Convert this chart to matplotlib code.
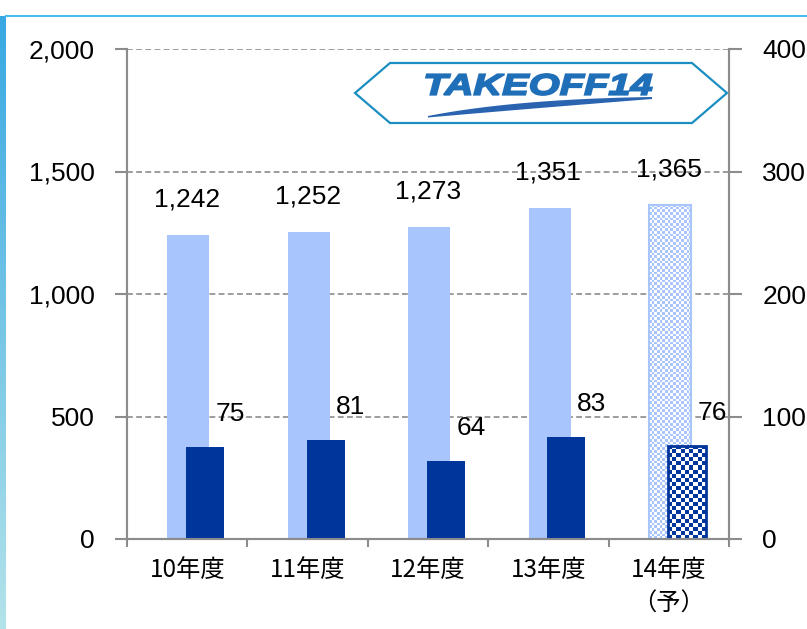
import numpy as np
import matplotlib
matplotlib.use("Agg")
import matplotlib.pyplot as plt
from matplotlib.colors import ListedColormap, LinearSegmentedColormap
from matplotlib.patches import Polygon, PathPatch
from matplotlib.textpath import TextPath
from matplotlib.font_manager import FontProperties
from matplotlib.transforms import Affine2D
from matplotlib.lines import Line2D

plt.rcParams['font.family'] = ['Liberation Sans', 'Noto Sans CJK JP', 'DejaVu Sans']

# --- データ ---
categories = ["10年度", "11年度", "12年度", "13年度", "14年度\n（予）"]
sales      = [1242, 1252, 1273, 1351, 1365]   # 左軸
profit     = [75, 81, 64, 83, 76]             # 右軸
forecast   = [False, False, False, False, True]

LIGHT = "#a8c5fd"
DARK  = "#00359b"
GRAY  = "#8c8c8c"

W, H = 807, 629
fig = plt.figure(figsize=(W / 100, H / 100), dpi=100)
ax = fig.add_axes([127 / W, 1 - 539 / H, (729 - 127) / W, (539 - 49) / H])
ax2 = ax.twinx()

x = np.arange(len(categories))


def checker(axis, patch, c1, c2, cell_px):
    ext = patch.get_window_extent()
    nx = max(1, int(round(ext.width / cell_px)))
    ny = max(1, int(round(ext.height / cell_px)))
    grid = np.add.outer(np.arange(ny), np.arange(nx)) % 2
    x0, y0 = patch.get_x(), patch.get_y()
    im = axis.imshow(grid, cmap=ListedColormap([c1, c2]), origin="lower",
                     extent=(x0, x0 + patch.get_width(), y0, y0 + patch.get_height()),
                     interpolation="nearest", aspect="auto",
                     zorder=patch.get_zorder() + 0.1)
    im.set_clip_path(patch)


ax.set_xlim(-0.5, len(categories) - 0.5)
ax.set_ylim(0, 2000)
ax2.set_ylim(0, 400)

off_l, w_l = 0.01, 0.35
off_d, w_d = 0.15, 0.315

bars_l = ax.bar(x + off_l, sales, w_l, color=LIGHT, zorder=2)
bars_d = ax2.bar(x + off_d, profit, w_d, color=DARK, zorder=2)

for i, f in enumerate(forecast):
    if not f:
        continue
    bl, bd = bars_l[i], bars_d[i]
    bl.set_facecolor("white")
    checker(ax, bl, LIGHT, "white", 2.7)
    ax.bar(x[i] + off_l, sales[i], w_l, fill=False, edgecolor=LIGHT, lw=1.5, zorder=2.3)
    bd.set_facecolor("white")
    checker(ax2, bd, DARK, "white", 4.0)
    ax2.bar(x[i] + off_d, profit[i], w_d, fill=False, edgecolor=DARK, lw=2.0, zorder=2.3)

ax.set_xlim(-0.5, len(categories) - 0.5)
ax.set_ylim(0, 2000)
ax2.set_ylim(0, 400)

# 数値ラベル
for xi, v in zip(x, sales):
    ax.text(xi, v + 145, f"{v:,}", ha="center", va="center", fontsize=19, zorder=5)
for xi, v in zip(x, profit):
    ax2.text(xi + 0.36, v + 27, f"{v}", ha="center", va="center", fontsize=19, zorder=5)

# 軸
ax.set_yticks([0, 500, 1000, 1500, 2000])
ax.set_yticklabels([f"{t:,}" for t in [0, 500, 1000, 1500, 2000]])
ax2.set_yticks([0, 100, 200, 300, 400])
ax.set_xticks(np.arange(-0.5, len(categories)), labels=[""] * (len(categories) + 1))
ax.set_xticks(x, labels=categories, minor=True, fontsize=17.5,
              family=['Noto Sans CJK JP', 'DejaVu Sans'], linespacing=1.4)
ax.tick_params(axis="x", which="major", length=6, width=1.5, color=GRAY, direction="out")
ax.tick_params(axis="x", which="minor", length=0, pad=13)
ax.tick_params(axis="y", length=9, width=1.5, color=GRAY, labelsize=19, pad=14)
ax2.tick_params(axis="y", length=9, width=1.5, color=GRAY, labelsize=19, pad=15)

ax.grid(axis="y", color=GRAY, lw=1.2, linestyle=(0, (3.5, 2)))
ax.set_axisbelow(True)
for a in (ax, ax2):
    a.spines["top"].set_visible(False)
    for s in ("left", "right", "bottom"):
        a.spines[s].set_color(GRAY)
        a.spines[s].set_linewidth(1.5)

# --- ロゴ (TAKEOFF14) ---
T = Affine2D().scale(1, -1).translate(0, H).scale(1 / W, 1 / H) + fig.transFigure
hexagon = Polygon([(355, 93), (390, 63), (692, 63), (727, 93), (692, 123), (390, 123)],
                  closed=True, facecolor="white", edgecolor="#1b8fc2", lw=1.6,
                  transform=T, zorder=10)
fig.add_artist(hexagon)

tp = TextPath((0, 0), "TAKEOFF14", size=1,
              prop=FontProperties(family="Liberation Sans", weight="bold", style="italic"))
ext = tp.get_extents()
sx = (652 - 426) / ext.width
sy = (95 - 74) / ext.height
tt = Affine2D().translate(-ext.x0, -ext.y0).scale(sx, -sy).translate(426, 95) + T
fig.add_artist(PathPatch(tp, facecolor="#1f6fb8", edgecolor="#1f6fb8", lw=1.3,
                         transform=tt, zorder=11))

t = np.linspace(0, 1, 40)
def qb(p0, c, p2):
    p0, c, p2 = map(np.array, (p0, c, p2))
    return ((1 - t) ** 2)[:, None] * p0 + (2 * (1 - t) * t)[:, None] * c + (t ** 2)[:, None] * p2
upper = qb((428, 116), (515, 99), (652, 97))
lower = qb((428, 117.5), (525, 109), (652, 99))
fig.add_artist(Polygon(np.vstack([upper, lower[::-1]]), closed=True,
                       facecolor="#2a64b0", edgecolor="none", transform=T, zorder=11))

# --- 枠 ---
strip = fig.add_axes([0, 0, 6 / W, (H - 16) / H])
grad = LinearSegmentedColormap.from_list("g", ["#b3e3ea", "#38a8e2"])
strip.imshow(np.linspace(0, 1, 256)[:, None], cmap=grad, aspect="auto", origin="lower")
strip.axis("off")
fig.add_artist(Line2D([6 / W, 1], [(H - 16) / H] * 2, color="#4cbce9", lw=1.5))

fig.savefig("out.png", dpi=100)
